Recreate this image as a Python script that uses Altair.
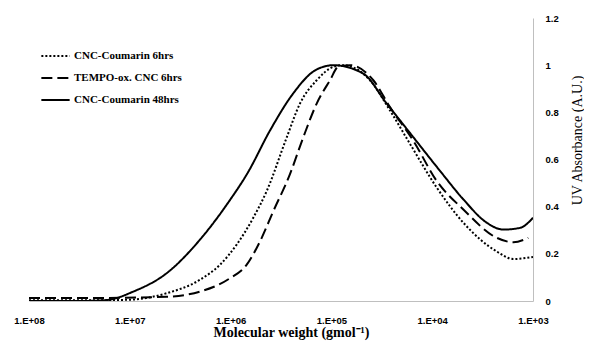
import altair as alt
import pandas as pd

names = ["CNC-Coumarin 6hrs", "TEMPO-ox. CNC 6hrs", "CNC-Coumarin 48hrs"]

# log10 of molecular weight and UV absorbance
dot_logm = [8.0, 7.5, 7.031, 6.634, 6.304, 6.105, 5.940, 5.775, 5.642, 5.443, 5.312,
            5.146, 4.981, 4.885, 4.617, 4.419, 4.220, 3.955, 3.691, 3.360, 3.195, 3.0]
dot_abs = [0.003, 0.003, 0.005, 0.033, 0.090, 0.154, 0.239, 0.353, 0.466, 0.694, 0.837,
           0.936, 0.993, 1.0, 0.936, 0.808, 0.666, 0.481, 0.332, 0.210, 0.178, 0.187]

dash_logm = [8.0, 7.296, 6.634, 6.304, 6.015, 5.840, 5.708, 5.576, 5.411, 5.279, 5.146,
             5.014, 4.932, 4.815, 4.584, 4.419, 4.188, 3.955, 3.691, 3.360, 3.195, 3.047]
dash_abs = [0.013, 0.013, 0.018, 0.040, 0.094, 0.154, 0.253, 0.381, 0.538, 0.694, 0.837,
            0.936, 0.993, 1.0, 0.936, 0.822, 0.680, 0.509, 0.388, 0.268, 0.249, 0.268]

solid_logm = [8.0, 7.5, 7.229, 6.965, 6.634, 6.304, 6.026, 5.827, 5.609, 5.381, 5.183,
              5.044, 4.984, 4.687, 4.451, 4.190, 3.923, 3.691, 3.459, 3.295, 3.129, 3.0]
solid_abs = [0.0, 0.0, 0.004, 0.040, 0.118, 0.260, 0.416, 0.546, 0.723, 0.879, 0.972,
             0.997, 1.0, 0.965, 0.837, 0.696, 0.552, 0.431, 0.332, 0.303, 0.310, 0.353]

x_ticks = [1e8, 1e7, 1e6, 1e5, 1e4, 1e3]
y_ticks = [0, 0.2, 0.4, 0.6, 0.8, 1.0, 1.2]

rows = []
for name, xs, ys in zip(names, [dot_logm, dash_logm, solid_logm], [dot_abs, dash_abs, solid_abs]):
    for lx, y in zip(xs, ys):
        rows.append({"series": name, "mw": 10 ** lx, "abs": y})
df = pd.DataFrame(rows)

chart = alt.Chart(df).mark_line(
    color="black", strokeWidth=2, interpolate="monotone", clip=True
).encode(
    x=alt.X(
        "mw:Q",
        scale=alt.Scale(type="log", domain=[1e3, 1e8], reverse=True),
        axis=alt.Axis(
            values=x_ticks,
            labelExpr="'1.E+0' + round(log(datum.value) / LN10)",
            labelFont="Liberation Sans", labelFontWeight="bold", labelFontSize=9.5,
            labelColor="black", labelPadding=14, labelFlush=False, labelOverlap=False,
            ticks=False, grid=False, domainColor="#bfbfbf",
            title="Molecular weight (gmol⁻¹)",
            titleFont="Liberation Serif", titleFontWeight="bold", titleFontSize=14,
            titleColor="black", titleX=262, titleY=31, titleBaseline="middle",
        ),
    ),
    y=alt.Y(
        "abs:Q",
        scale=alt.Scale(domain=[0, 1.2]),
        axis=alt.Axis(
            orient="right", values=y_ticks, format="~g",
            labelFont="Liberation Sans", labelFontWeight="bold", labelFontSize=9.5,
            labelColor="black", labelPadding=12, labelFlush=False,
            ticks=False, grid=False, domainColor="#bfbfbf",
            title="UV Absorbance (A.U.)",
            titleFont="Liberation Serif", titleFontWeight="normal", titleFontSize=14,
            titleColor="black", titleAngle=270, titleX=44, titleY=122,
            titleAlign="center", titleBaseline="middle",
        ),
    ),
    strokeDash=alt.StrokeDash(
        "series:N",
        scale=alt.Scale(domain=names, range=[[2, 2], [11, 5], [1, 0]]),
        legend=alt.Legend(
            title=None, orient="none", legendX=11, legendY=30,
            symbolType="stroke", symbolSize=800, symbolStrokeWidth=2,
            symbolStrokeColor="black",
            labelFont="Liberation Serif", labelFontWeight="bold", labelFontSize=11,
            labelColor="black", labelOffset=3, clipHeight=16, rowPadding=6,
        ),
    ),
).properties(
    width=504, height=283,
    autosize=alt.AutoSizeParams(type="none"),
    padding={"left": 21, "top": 10, "right": 51, "bottom": 42},
).configure_view(stroke=None)

chart.save("out.html", embed_options={"renderer": "svg", "actions": False})
